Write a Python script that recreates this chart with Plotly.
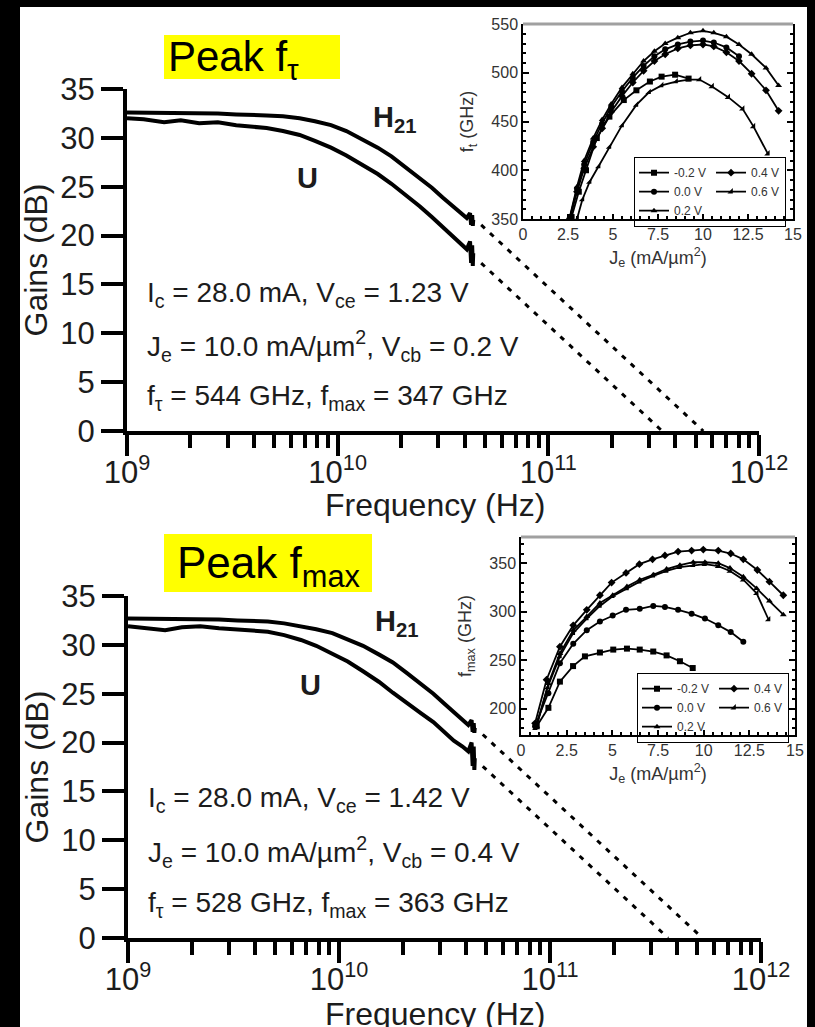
import numpy as np
import plotly.graph_objects as go

W, H = 815, 1027

# ---------------- main gain curves (frequency in GHz, gain in dB) ----------------
freq_ghz = [1.0, 1.2, 1.5, 1.8, 2.2, 2.7, 3.3, 3.9, 4.6, 5.5, 6.6, 7.8, 9.3, 11.0, 13.0,
            15.5, 18.0, 21.0, 24.5, 28.0, 31.5, 35.0, 38.5, 41.0, 42.5, 43.0, 43.5, 43.8, 44.0]

h21_peak_ft = [32.6, 32.6, 32.6, 32.5, 32.5, 32.5, 32.4, 32.4, 32.3, 32.2, 32.0, 31.7, 31.3, 30.7, 29.9,
               29.0, 28.1, 27.0, 25.9, 24.9, 23.9, 23.1, 22.3, 21.8, 22.3, 21.1, 22.1, 21.0, 21.6]
u_peak_ft = [32.0, 31.9, 31.6, 31.8, 31.5, 31.6, 31.3, 31.2, 31.0, 30.7, 30.3, 29.7, 29.0, 28.2, 27.3,
             26.3, 25.3, 24.2, 23.0, 21.9, 20.9, 19.9, 19.1, 18.6, 19.4, 17.2, 19.0, 16.9, 18.2]

h21_peak_fmax = [32.7, 32.7, 32.7, 32.6, 32.6, 32.6, 32.5, 32.5, 32.4, 32.2, 31.9, 31.6, 31.2, 30.6, 29.9,
                 29.0, 28.2, 27.1, 26.0, 25.0, 24.0, 23.1, 22.3, 21.8, 22.3, 21.1, 22.0, 21.0, 21.5]
u_peak_fmax = [31.9, 31.7, 31.5, 31.8, 31.9, 31.7, 31.6, 31.5, 31.35, 31.0, 30.5, 29.9, 29.1, 28.3, 27.3,
               26.2, 25.1, 24.0, 23.0, 22.1, 21.1, 20.2, 19.6, 19.1, 20.0, 17.6, 19.6, 17.2, 18.4]

# extracted cut-off frequencies (GHz)
ft_peak_ft, fmax_peak_ft = 544, 347
ft_peak_fmax, fmax_peak_fmax = 528, 363
extrap_start_ghz = 48.0

# ---------------- inset data: f_t and f_max vs emitter current density ----------------
vcb_labels = ["-0.2 V", "0.0 V", "0.2 V", "0.4 V", "0.6 V"]
vcb_symbols = ["square", "circle", "triangle-up", "diamond", "triangle-se"]

ft_j = {
    "-0.2 V": [2.7, 3.1, 3.5, 4.1, 4.8, 5.6, 6.3, 7.05, 7.7, 8.45, 9.2],
    "0.0 V": [2.6, 3.0, 3.4, 3.9, 4.4, 4.9, 5.5, 6.1, 6.7, 7.3, 7.9, 8.6, 9.3, 10.0, 10.6, 11.3, 12.0],
    "0.2 V": [2.6, 3.0, 3.4, 3.9, 4.4, 4.9, 5.5, 6.1, 6.7, 7.3, 7.9, 8.6, 9.3, 10.0, 10.6, 11.3, 12.0, 12.7, 13.5, 14.2],
    "0.4 V": [2.6, 3.0, 3.4, 3.9, 4.4, 4.9, 5.5, 6.1, 6.7, 7.3, 7.9, 8.6, 9.3, 10.0, 10.6, 11.3, 12.0, 12.7, 13.5, 14.2],
    "0.6 V": [3.0, 3.3, 3.7, 4.2, 4.8, 5.5, 6.3, 7.0, 7.7, 8.5, 9.2, 9.8, 10.5, 11.4, 12.2, 12.8, 13.6],
}
ft_ghz = {
    "-0.2 V": [352, 378, 400, 433, 455, 472, 482, 491, 496, 498, 494],
    "0.0 V": [351, 381, 406, 429, 448, 465, 481, 495, 507, 517, 524, 529, 532, 533, 531, 526, 517],
    "0.2 V": [352, 383, 410, 433, 452, 468, 485, 499, 512, 522, 530, 536, 541, 543, 541, 537, 529, 519, 505, 487],
    "0.4 V": [350, 378, 402, 424, 443, 460, 476, 490, 502, 512, 519, 525, 528, 529, 527, 521, 512, 499, 482, 461],
    "0.6 V": [350, 370, 388, 404, 424, 446, 467, 480, 487, 491, 493, 493, 486, 475, 463, 445, 417],
}

fmax_j = {
    "-0.2 V": [0.86, 1.5, 2.13, 2.85, 3.5, 4.32, 5.05, 5.8, 6.5, 7.24, 7.97, 8.7, 9.4],
    "0.0 V": [0.77, 1.5, 2.13, 2.86, 3.6, 4.32, 5.02, 5.75, 6.5, 7.24, 7.88, 8.6, 9.34, 10.07, 10.8, 11.48, 12.17],
    "0.2 V": [0.86, 1.5, 2.13, 2.86, 3.6, 4.32, 5.02, 5.8, 6.5, 7.24, 7.97, 8.7, 9.43, 10.07, 10.8, 11.44, 12.17, 12.9, 13.6, 14.36],
    "0.4 V": [0.77, 1.4, 2.13, 2.86, 3.6, 4.32, 4.96, 5.75, 6.48, 7.2, 7.88, 8.6, 9.34, 9.98, 10.8, 11.48, 12.17, 12.94, 13.6, 14.36],
    "0.6 V": [0.8, 1.45, 2.13, 2.86, 3.6, 4.32, 5.02, 5.8, 6.5, 7.24, 7.97, 8.7, 9.43, 10.07, 10.8, 11.44, 12.17, 12.9, 13.55],
}
fmax_ghz = {
    "-0.2 V": [182, 201, 228, 244, 254, 258, 261, 262, 261, 259, 255, 249, 242],
    "0.0 V": [182, 216, 247, 267, 281, 290, 296, 302, 303, 306, 305, 302, 298, 293, 286, 279, 269],
    "0.2 V": [182, 226, 257, 281, 295, 309, 317, 326, 333, 338, 344, 348, 351, 351, 350, 345, 336, 324, 311, 297],
    "0.4 V": [185, 230, 264, 286, 302, 317, 330, 340, 349, 354, 358, 362, 363, 364, 363, 360, 354, 343, 331, 317],
    "0.6 V": [180, 222, 254, 278, 293, 306, 316, 324, 331, 337, 342, 346, 348, 349, 347, 342, 333, 319, 292],
}

# ---------------- tick labels ----------------
decade_vals = [1e9, 1e10, 1e11, 1e12]
decade_text = ["10<sup>9</sup>", "10<sup>10</sup>", "10<sup>11</sup>", "10<sup>12</sup>"]
minor_vals = [m * d for d in [1e9, 1e10, 1e11] for m in range(2, 10)]
j_ticks = [0, 2.5, 5, 7.5, 10, 12.5, 15]
j_text = ["0", "2.5", "5", "7.5", "10", "12.5", "15"]


def px_x(p):
    return p / W


def px_y(p):
    return 1 - p / H


FONT = "Liberation Sans, Arial, sans-serif"
INK = "#1c1c1c"

fig = go.Figure()

freq_hz = [f * 1e9 for f in freq_ghz]


def add_main(xa, ya, h21, u, ft, fmax):
    fig.add_trace(go.Scatter(x=freq_hz, y=h21, mode="lines", xaxis=xa, yaxis=ya,
                             line=dict(color="black", width=4), showlegend=False))
    fig.add_trace(go.Scatter(x=freq_hz, y=u, mode="lines", xaxis=xa, yaxis=ya,
                             line=dict(color="black", width=4), showlegend=False))
    # -20 dB/decade extrapolations down to the extracted cut-off frequencies
    for fc in (ft, fmax):
        fx = np.array([extrap_start_ghz, fc])
        fy = 20 * np.log10(fc / fx)
        fig.add_trace(go.Scatter(x=fx * 1e9, y=fy, mode="lines", xaxis=xa, yaxis=ya,
                                 line=dict(color="black", width=3, dash="5px,7px"),
                                 showlegend=False))


add_main("x", "y", h21_peak_ft, u_peak_ft, ft_peak_ft, fmax_peak_ft)
add_main("x2", "y2", h21_peak_fmax, u_peak_fmax, ft_peak_fmax, fmax_peak_fmax)

for lab, sym in zip(vcb_labels, vcb_symbols):
    grp = "a" if lab in ("-0.2 V", "0.0 V", "0.2 V") else "b"
    fig.add_trace(go.Scatter(x=ft_j[lab], y=ft_ghz[lab], mode="lines+markers", name=lab,
                             xaxis="x3", yaxis="y3", legend="legend", legendgroup=grp + "1",
                             line=dict(color="black", width=1.8),
                             marker=dict(symbol=sym, size=6, color="black")))
for lab, sym in zip(vcb_labels, vcb_symbols):
    grp = "a" if lab in ("-0.2 V", "0.0 V", "0.2 V") else "b"
    fig.add_trace(go.Scatter(x=fmax_j[lab], y=fmax_ghz[lab], mode="lines+markers", name=lab,
                             xaxis="x4", yaxis="y4", legend="legend2", legendgroup=grp + "2",
                             line=dict(color="black", width=1.8),
                             marker=dict(symbol=sym, size=6, color="black")))


def main_x(dom, anchor):
    return dict(type="log", range=[9, 12], domain=dom, anchor=anchor, automargin=False,
                showline=True, linecolor="black", linewidth=4, showgrid=False, zeroline=False,
                tickmode="array", tickvals=decade_vals, ticktext=decade_text,
                ticks="outside", ticklen=21, tickwidth=4, tickcolor="black",
                ticklabelstandoff=-10,
                tickfont=dict(family=FONT, size=31, color=INK),
                minor=dict(tickmode="array", tickvals=minor_vals, ticks="outside",
                           ticklen=13, tickwidth=4, tickcolor="black", showgrid=False))


def main_y(dom, anchor):
    return dict(range=[0, 35], domain=dom, anchor=anchor, automargin=False,
                showline=True, linecolor="black", linewidth=4, showgrid=False, zeroline=False,
                tickmode="linear", tick0=0, dtick=5,
                ticks="outside", ticklen=22, tickwidth=4, tickcolor="black",
                tickfont=dict(family=FONT, size=31, color=INK),
                title=dict(text="Gains (dB)", font=dict(family=FONT, size=32, color=INK),
                           standoff=4))


def inset_x(dom, anchor):
    return dict(range=[0, 15], domain=dom, anchor=anchor, automargin=False,
                showline=True, linecolor="black", linewidth=1.5, mirror=False,
                showgrid=False, zeroline=False,
                tickmode="array", tickvals=j_ticks, ticktext=j_text,
                ticks="inside", ticklen=5, tickwidth=1.5, tickcolor="black",
                minor=dict(dtick=0.5, ticks="inside", ticklen=3, tickwidth=1.5, tickcolor="black"),
                tickfont=dict(family=FONT, size=16, color="#333"),
                title=dict(text="J<sub>e</sub> (mA/\u00b5m<sup>2</sup>)",
                           font=dict(family=FONT, size=18, color="#333"), standoff=9))


def inset_y(dom, anchor, rng, title):
    return dict(range=rng, domain=dom, anchor=anchor, automargin=False,
                showline=True, linecolor="black", linewidth=1.5, mirror="allticks",
                showgrid=False, zeroline=False,
                tickmode="linear", tick0=0, dtick=50,
                ticks="inside", ticklen=6, tickwidth=1.5, tickcolor="black",
                minor=dict(dtick=10, ticks="inside", ticklen=3, tickwidth=1.5, tickcolor="black"),
                tickfont=dict(family=FONT, size=16, color="#333"),
                title=dict(text=title, font=dict(family=FONT, size=18, color="#333"), standoff=13))


legend_style = dict(orientation="h", traceorder="grouped", xanchor="left", yanchor="top",
                    bgcolor="rgba(255,255,255,0)", bordercolor="black", borderwidth=1.2,
                    font=dict(family=FONT, size=12, color="#333"), itemwidth=30,
                    tracegroupgap=0, itemclick=False)

fig.update_layout(
    width=W, height=H, margin=dict(l=0, r=0, t=0, b=0, autoexpand=False),
    paper_bgcolor="black", plot_bgcolor="rgba(0,0,0,0)",
    xaxis=main_x([px_x(127), px_x(759)], "y"),
    yaxis=main_y([px_y(431), px_y(89)], "x"),
    xaxis2=main_x([px_x(128), px_x(761)], "y2"),
    yaxis2=main_y([px_y(938), px_y(596)], "x2"),
    xaxis3=inset_x([px_x(523), px_x(793)], "y3"),
    yaxis3=inset_y([px_y(219), px_y(24)], "x3", [350, 550], "f<sub>t</sub> (GHz)"),
    xaxis4=inset_x([px_x(521), px_x(795)], "y4"),
    yaxis4=inset_y([px_y(735), px_y(537)], "x4", [173, 377], "f<sub>max</sub> (GHz)"),
    legend=dict(x=px_x(634), y=px_y(157), **legend_style),
    legend2=dict(x=px_x(637), y=px_y(673), **legend_style),
)

shapes = [
    dict(type="rect", xref="paper", yref="paper", x0=px_x(20), x1=px_x(807), y0=0, y1=px_y(7),
         fillcolor="white", line=dict(width=0), layer="below"),
    dict(type="rect", xref="paper", yref="paper", x0=px_x(164), x1=px_x(340), y0=px_y(79), y1=px_y(35),
         fillcolor="#ffff00", line=dict(width=0), layer="below"),
    dict(type="rect", xref="paper", yref="paper", x0=px_x(164), x1=px_x(372), y0=px_y(592), y1=px_y(534),
         fillcolor="#ffff00", line=dict(width=0), layer="below"),
    dict(type="line", xref="x3 domain", yref="y3 domain", x0=0, x1=1, y0=1, y1=1,
         line=dict(color="#a0a0a0", width=3)),
    dict(type="line", xref="x4 domain", yref="y4 domain", x0=0, x1=1, y0=1, y1=1,
         line=dict(color="#a0a0a0", width=3)),
]
fig.update_layout(shapes=shapes)


def note(text, x, y, size, color=INK, xanchor="left"):
    fig.add_annotation(text=text, xref="paper", yref="paper", x=px_x(x), y=px_y(y),
                       xanchor=xanchor, yanchor="middle", showarrow=False,
                       font=dict(family=FONT, size=size, color=color))


# panel headers
note("Peak f<sub>\u03c4</sub>", 166, 60, 42, color="black")
note("Peak f<sub>max</sub>", 175, 566, 44, color="black")

# frequency axis titles
note("Frequency (Hz)", 435, 505, 32, xanchor="center")
note("Frequency (Hz)", 435, 1014, 32, xanchor="center")

# curve labels
note("<b>H<sub>21</sub></b>", 371, 119, 29)
note("<b>U</b>", 295, 178, 29)
note("<b>H<sub>21</sub></b>", 373, 623, 29)
note("<b>U</b>", 298, 685, 29)

# bias conditions
note("I<sub>c</sub> = 28.0 mA, V<sub>ce</sub> = 1.23 V", 145, 294, 28)
note("J<sub>e</sub> = 10.0 mA/\u00b5m<sup>2</sup>, V<sub>cb</sub> = 0.2 V", 145, 346, 28)
note("f<sub>\u03c4</sub> = 544 GHz, f<sub>max</sub> = 347 GHz", 145, 398, 28)
note("I<sub>c</sub> = 28.0 mA, V<sub>ce</sub> = 1.42 V", 146, 799, 28)
note("J<sub>e</sub> = 10.0 mA/\u00b5m<sup>2</sup>, V<sub>cb</sub> = 0.4 V", 146, 852, 28)
note("f<sub>\u03c4</sub> = 528 GHz, f<sub>max</sub> = 363 GHz", 146, 904, 28)

fig.write_html("out.html")
